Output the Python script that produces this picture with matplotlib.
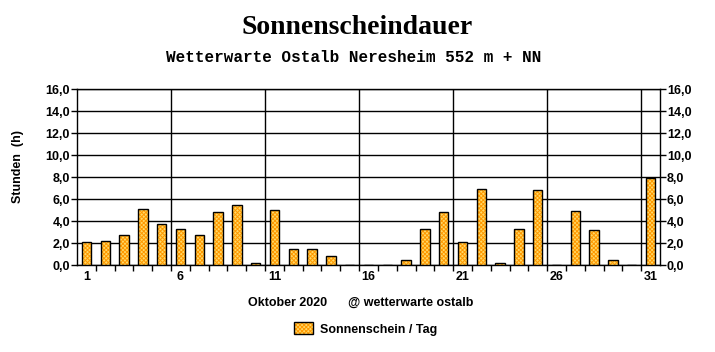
import matplotlib.pyplot as plt
from matplotlib.patches import Patch
from matplotlib.ticker import FuncFormatter

# Sonnenscheindauer Oktober 2020, Stunden pro Tag
days = list(range(1, 32))
sun_hours = [2.1, 2.2, 2.7, 5.1, 3.7, 3.3, 2.7, 4.8, 5.5, 0.2,
             5.0, 1.5, 1.5, 0.8, 0.0, 0.0, 0.0, 0.5, 3.3, 4.8,
             2.1, 6.9, 0.2, 3.3, 6.8, 0.0, 4.9, 3.2, 0.5, 0.0, 7.9]
day_labels = [1, 6, 11, 16, 21, 26, 31]
y_ticks = [0, 2, 4, 6, 8, 10, 12, 14, 16]

plt.rcParams['font.family'] = ['Liberation Sans', 'DejaVu Sans']
plt.rcParams['hatch.linewidth'] = 0.7

W, H = 715, 352
fig = plt.figure(figsize=(W / 100, H / 100), dpi=100)
ax = fig.add_axes([77 / W, 87 / H, 583 / W, 176 / H])

fill = '#FFD966'
hatch_col = '#FF9900'
hatch = 'xxxxxxxx'

# bars: checkered fill + black outline
ax.bar(days, sun_hours, width=0.5, color=fill, edgecolor=hatch_col,
       hatch=hatch, linewidth=0, zorder=3)
ax.bar(days, sun_hours, width=0.5, facecolor='none', edgecolor='black',
       linewidth=1, zorder=4)

ax.set_xlim(0.5, 31.5)
ax.set_ylim(0, 16)

# horizontal grid
ax.set_yticks(y_ticks)
ax.yaxis.grid(True, color='black', linewidth=1)
ax.set_axisbelow(True)
ax.yaxis.set_major_formatter(
  FuncFormatter(lambda v, p: f'{v:.1f}'.replace('.', ',')))
ax.tick_params(axis='y', left=True, right=True, labelleft=True,
               labelright=True, direction='out', length=4, width=1,
               pad=1, labelsize=9)

# vertical separators every 5 days
for d in day_labels[1:]:
  ax.axvline(d - 0.5, color='black', linewidth=1, zorder=1)

ax.set_xticks(day_labels)
ax.set_xticks([d + 0.5 for d in days[:-1]], minor=True)
ax.tick_params(axis='x', which='major', length=0, pad=4, labelsize=9)
ax.tick_params(axis='x', which='minor', direction='out', length=4,
               width=1)

for lab in ax.get_xticklabels():
  lab.set_fontweight('bold')
for t in ax.yaxis.get_major_ticks():
  t.label1.set_fontweight('bold')
  t.label2.set_fontweight('bold')

for s in ax.spines.values():
  s.set_color('black')
  s.set_linewidth(1)

# texts
fig.text(0.5, 1 - 27 / H, 'Sonnenscheindauer', ha='center', va='center',
         family='Liberation Serif', weight='bold', size=20)
fig.text(354 / W, 1 - 57 / H, 'Wetterwarte Ostalb Neresheim 552 m + NN',
         ha='center', va='center', family='Liberation Mono',
         weight='bold', size=11.5)
fig.text(18 / W, 1 - 167 / H, 'Stunden  (h)', rotation=90, ha='center',
         va='center', weight='bold', size=9)
fig.text(248 / W, 1 - 303 / H, 'Oktober 2020', ha='left', va='center',
         weight='bold', size=9)
fig.text(348 / W, 1 - 303 / H, '@ wetterwarte ostalb', ha='left',
         va='center', weight='bold', size=9)

# legend
h_fill = Patch(facecolor=fill, edgecolor=hatch_col, hatch=hatch,
               linewidth=0)
h_edge = Patch(facecolor='none', edgecolor='black', linewidth=1)
fig.legend(handles=[(h_fill, h_edge)], labels=['Sonnenschein / Tag'],
           loc='center', bbox_to_anchor=(366 / W, 1 - 329 / H),
           frameon=False, prop={'weight': 'bold', 'size': 9},
           handlelength=1.5, handleheight=1.1, handletextpad=0.6)

fig.savefig('out.png', dpi=100)
